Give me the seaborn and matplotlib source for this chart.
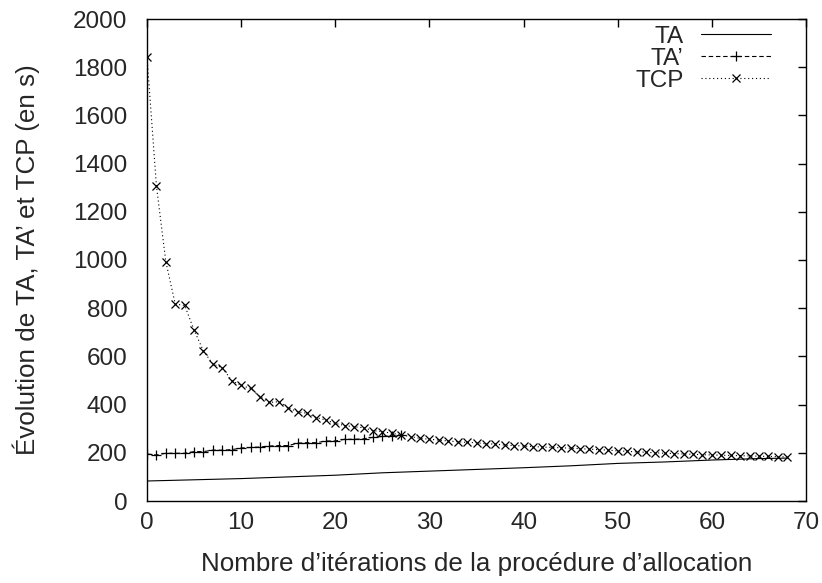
import numpy as np
import pandas as pd
import seaborn as sns
import matplotlib
matplotlib.use("Agg")
import matplotlib.pyplot as plt

# --- data ---
ta_x = [0, 5, 10, 15, 20, 25, 30, 35, 40, 45, 50, 55, 60, 65, 68]
ta_y = [83, 88, 93, 100, 107, 117, 124, 131, 138, 146, 156, 162, 170, 176, 178]

tap_x = list(range(0, 28))
tap_y = [195, 191, 198, 198, 198, 205, 205, 211, 211, 213, 220, 222, 224, 228,
         230, 230, 240, 242, 242, 249, 249, 256, 256, 258, 264, 268, 270, 272]

tcp_x = list(range(0, 69))
tcp_y = [1842, 1308, 993, 817, 812, 709, 622, 568, 553, 499, 480, 467, 433, 409,
         412, 387, 370, 364, 346, 336, 322, 313, 308, 304, 292, 288, 281, 274,
         267, 260, 256, 253, 249, 246, 243, 242, 237, 236, 232, 230, 228, 226,
         224, 222, 221, 219, 217, 215, 213, 211, 208, 206, 204, 202, 200, 198,
         197, 195, 194, 192, 191, 190, 189, 188, 187, 186, 185, 184, 183]

x_ticks = list(range(0, 71, 10))
y_ticks = list(range(0, 2001, 200))
x_label = "Nombre d’itérations de la procédure d’allocation"
y_label = "Évolution de TA, TA’ et TCP (en s)"

sns.set_theme(style="white")
plt.rcParams['font.family'] = ['Liberation Sans', 'DejaVu Sans']

FS = 17.5
LFS = 18.7

fig = plt.figure(figsize=(8.22, 5.83), dpi=100)
ax = fig.add_axes([147/822, 1 - 501/583, (806 - 147)/822, (501 - 19)/583])

df_ta = pd.DataFrame({"x": ta_x, "y": ta_y})
df_tap = pd.DataFrame({"x": tap_x, "y": tap_y})
df_tcp = pd.DataFrame({"x": tcp_x, "y": tcp_y})

lw = 0.8
sns.lineplot(data=df_ta, x="x", y="y", ax=ax, color="black", linewidth=lw,
             label="TA")
sns.lineplot(data=df_tap, x="x", y="y", ax=ax, color="black", linewidth=lw,
             marker="+", markersize=7.5, markeredgewidth=0.9,
             markeredgecolor="black", label="TA’")
sns.lineplot(data=df_tcp, x="x", y="y", ax=ax, color="black", linewidth=lw,
             marker="x", markersize=5.5, markeredgewidth=0.9,
             markeredgecolor="black", label="TCP")
lines = ax.get_lines()
lines[1].set_dashes([4, 2.5])
lines[2].set_dashes([1, 2.5])

ax.set_xlim(0, 70)
ax.set_ylim(0, 2000)
ax.set_xticks(x_ticks)
ax.set_yticks(y_ticks)
ax.set_xlabel(x_label, fontsize=LFS, labelpad=13)
ax.set_ylabel(y_label, fontsize=LFS, labelpad=24)
ax.tick_params(axis="both", which="major", direction="in", length=6,
               width=1, labelsize=FS, top=True, right=True, color="black")
ax.tick_params(axis="x", pad=8)
ax.tick_params(axis="y", pad=14)
for s in ax.spines.values():
    s.set_color("black")
    s.set_linewidth(1)
ax.grid(False)

leg = ax.legend(loc="upper right", frameon=False, markerfirst=False,
                fontsize=FS, handlelength=2.9, handletextpad=0.7,
                labelspacing=0.0, borderpad=0, borderaxespad=0,
                bbox_to_anchor=(0.947, 0.986))
leg.legend_handles[1].set_dashes([4, 2.5])
leg.legend_handles[2].set_dashes([1, 2.5])

fig.savefig("out.png", dpi=100)
